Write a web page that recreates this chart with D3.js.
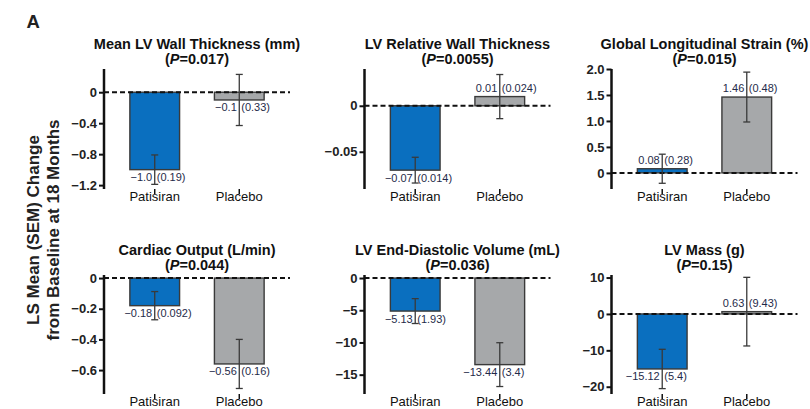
<!DOCTYPE html>
<html>
<head>
<meta charset="utf-8">
<script src="https://cdn.jsdelivr.net/npm/d3@7"></script>
<style>
  html, body { margin: 0; padding: 0; background: #fff; }
  svg { display: block; font-family: "Liberation Sans", Arial, sans-serif; }
</style>
</head>
<body>
<svg id="chart" width="810" height="409"></svg>
<script>
// Echocardiographic endpoints: LS mean (SEM) change from baseline at 18 months
const categories = ["Patisiran", "Placebo"];
const titles = [
  "Mean LV Wall Thickness (mm)",
  "LV Relative Wall Thickness",
  "Global Longitudinal Strain (%)",
  "Cardiac Output (L/min)",
  "LV End-Diastolic Volume (mL)",
  "LV Mass (g)"
];
const pValues = ["0.017", "0.0055", "0.015", "0.044", "0.036", "0.15"];
const patisiranMean = [-1.0, -0.07, 0.08, -0.18, -5.13, -15.12];
const patisiranSem  = [0.19, 0.014, 0.28, 0.092, 1.93, 5.4];
const placeboMean   = [-0.1, 0.01, 1.46, -0.56, -13.44, 0.63];
const placeboSem    = [0.33, 0.024, 0.48, 0.16, 3.4, 9.43];
const meanDecimals  = [1, 2, 2, 2, 2, 2];
const yDomains = [[-1.25, 0.3], [-0.0905, 0.04], [-0.31, 2.0], [-0.756, 0.02], [-18, 0.47], [-22, 10.7]];
const yTicks = [
  [0, -0.4, -0.8, -1.2],
  [0, -0.05],
  [0, 0.5, 1.0, 1.5, 2.0],
  [0, -0.2, -0.4, -0.6],
  [0, -5, -10, -15],
  [10, 0, -10, -20]
];
const yTickLabels = [
  ["0", "\u22120.4", "\u22120.8", "\u22121.2"],
  ["0", "\u22120.05"],
  ["0", "0.5", "1.0", "1.5", "2.0"],
  ["0", "\u22120.2", "\u22120.4", "\u22120.6"],
  ["0", "\u22125", "\u221210", "\u221215"],
  ["10", "0", "\u221210", "\u221220"]
];

const BLUE = "#0a6fbf", GRAY = "#a6a8aa", OUTLINE = "#3a3a3a", LABEL = "#1f2b4a";
const svg = d3.select("#chart");

// panel placement: axis x and vertical extent for each row
const axisX = [104, 364.5, 611.5];
const rows = [[69, 189], [275, 394]];
const panelWidth = 186;
const minus = s => s.replace("-", "\u2212");

titles.forEach((title, i) => {
  const col = i % 3, row = Math.floor(i / 3);
  const x0 = axisX[col];
  const [top, bottom] = rows[row];

  const x = d3.scaleBand().domain(categories)
    .range([x0, x0 + panelWidth]).paddingInner(0.412).paddingOuter(0.306);
  const y = d3.scaleLinear().domain(yDomains[i]).range([bottom, top]);

  const g = svg.append("g");
  const data = [
    { cat: categories[0], mean: patisiranMean[i], sem: patisiranSem[i], fill: BLUE },
    { cat: categories[1], mean: placeboMean[i], sem: placeboSem[i], fill: GRAY }
  ];

  // title
  const cx = x0 + panelWidth / 2;
  const tb = row === 0 ? 48.5 : 254.5;
  g.append("text").attr("x", cx).attr("y", tb).attr("text-anchor", "middle")
    .attr("font-size", 14.5).attr("font-weight", "bold").attr("fill", "#111").text(title);
  const pt = g.append("text").attr("x", cx).attr("y", tb + 15).attr("text-anchor", "middle")
    .attr("font-size", 14.5).attr("font-weight", "bold").attr("fill", "#111");
  pt.append("tspan").text("(");
  pt.append("tspan").attr("font-style", "italic").text("P");
  pt.append("tspan").text("=" + pValues[i] + ")");

  // bars
  g.selectAll("rect.bar").data(data).join("rect")
    .attr("class", "bar")
    .attr("x", d => x(d.cat))
    .attr("width", x.bandwidth())
    .attr("y", d => y(Math.max(0, d.mean)))
    .attr("height", d => Math.abs(y(d.mean) - y(0)))
    .attr("fill", d => d.fill)
    .attr("stroke", OUTLINE).attr("stroke-width", 1.4);

  // value labels: mean left of the error bar, SEM in parentheses right of it
  data.forEach(d => {
    const bx = x(d.cat) + x.bandwidth() / 2;
    const ly = d.mean < 0 ? y(d.mean) + 11.5 : y(d.mean) - 5;
    g.append("text").attr("x", bx - 2.5).attr("y", ly).attr("text-anchor", "end")
      .attr("font-size", 11).attr("fill", LABEL)
      .text(minus(d.mean.toFixed(meanDecimals[i])));
    g.append("text").attr("x", bx + 2).attr("y", ly).attr("text-anchor", "start")
      .attr("font-size", 11).attr("fill", LABEL)
      .text("(" + d.sem + ")");
  });

  // zero reference line
  g.append("line").attr("x1", x0).attr("x2", x0 + panelWidth)
    .attr("y1", y(0)).attr("y2", y(0))
    .attr("stroke", "#111").attr("stroke-width", 2).attr("stroke-dasharray", "5,3");

  // error bars (mean ± SEM)
  data.forEach(d => {
    const bx = x(d.cat) + x.bandwidth() / 2;
    const eg = g.append("g").attr("stroke", "#3a3a3a").attr("stroke-width", 1.3);
    eg.append("line").attr("x1", bx).attr("x2", bx)
      .attr("y1", y(d.mean + d.sem)).attr("y2", y(d.mean - d.sem));
    [d.mean + d.sem, d.mean - d.sem].forEach(v => {
      eg.append("line").attr("x1", bx - 3.5).attr("x2", bx + 3.5)
        .attr("y1", y(v)).attr("y2", y(v));
    });
  });

  // y axis
  const yAxis = d3.axisLeft(y).tickValues(yTicks[i])
    .tickFormat((d, k) => yTickLabels[i][k])
    .tickSize(5).tickSizeOuter(0).tickPadding(2);
  const ag = g.append("g").attr("transform", `translate(${x0},0)`).call(yAxis);
  ag.select(".domain").attr("stroke", "#111").attr("stroke-width", 2.5)
    .attr("d", `M0,${top}V${bottom}`);
  ag.selectAll(".tick line").attr("stroke", "#111").attr("stroke-width", 2);
  ag.selectAll(".tick text").attr("font-size", 13).attr("font-weight", "bold")
    .attr("fill", "#222").attr("font-family", "Liberation Sans, Arial, sans-serif");

  // category ticks and labels
  categories.forEach(c => {
    const bx = x(c) + x.bandwidth() / 2;
    g.append("line").attr("x1", bx).attr("x2", bx)
      .attr("y1", bottom).attr("y2", bottom + 5)
      .attr("stroke", "#111").attr("stroke-width", 1.5);
    g.append("text").attr("x", bx).attr("y", bottom + 11.5).attr("text-anchor", "middle")
      .attr("font-size", 13).attr("fill", "#111").text(c);
  });
});

// shared y-axis title
const yl = svg.append("text").attr("transform", "translate(38.5,230) rotate(-90)")
  .attr("text-anchor", "middle").attr("font-size", 17).attr("font-weight", "bold").attr("fill", "#222");
yl.append("tspan").attr("x", 0).attr("dy", 0).text("LS Mean (SEM) Change");
yl.append("tspan").attr("x", 0).attr("dy", 20.5).text("from Baseline at 18 Months");

// panel letter
svg.append("text").attr("x", 26.5).attr("y", 28.3).attr("font-size", 18.5)
  .attr("font-weight", "bold").attr("fill", "#222").text("A");
</script>
</body>
</html>
